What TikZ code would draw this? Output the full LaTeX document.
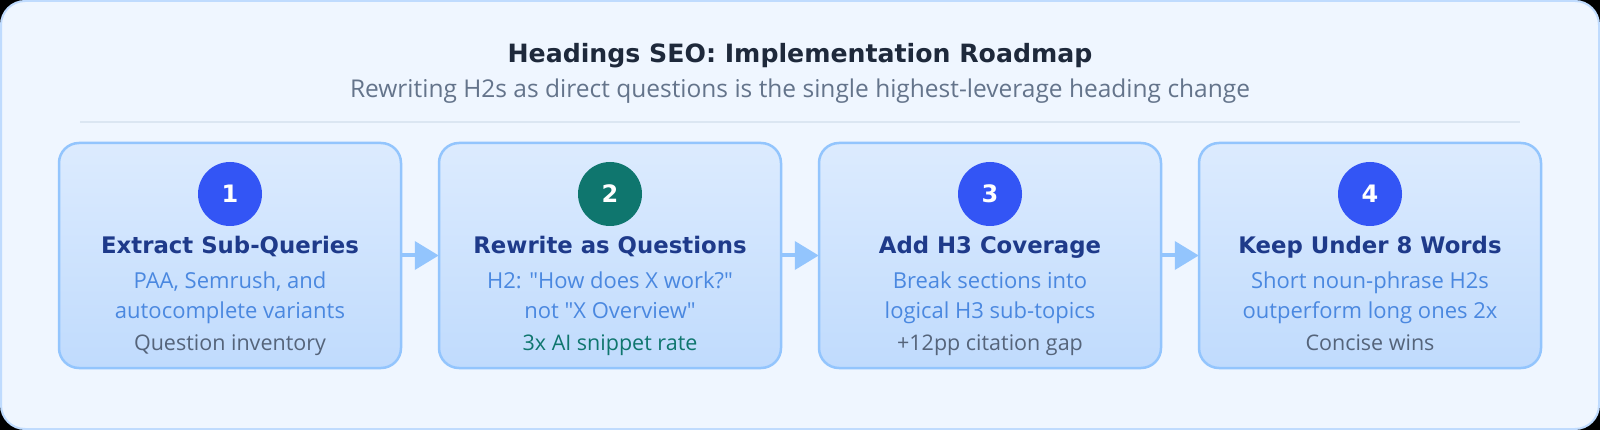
\documentclass[tikz,border=0pt]{standalone}
\usepackage{fontspec}
\setmainfont{Open Sans}
\newfontfamily\boldfam{DejaVu Sans}[BoldFont={DejaVu Sans Bold}]
\usetikzlibrary{arrows.meta}
\definecolor{cardfill}{RGB}{239,246,255}
\definecolor{cardline}{RGB}{191,219,254}
\definecolor{boxtop}{RGB}{220,235,254}
\definecolor{boxbot}{RGB}{192,219,253}
\definecolor{boxline}{RGB}{147,197,253}
\definecolor{ttl}{RGB}{30,41,59}
\definecolor{subttl}{RGB}{100,116,139}
\definecolor{divcol}{RGB}{219,230,242}
\definecolor{steptitle}{RGB}{30,58,138}
\definecolor{stepdesc}{RGB}{74,136,224}
\definecolor{stepfoot}{RGB}{85,100,122}
\definecolor{circblue}{RGB}{51,85,245}
\definecolor{circteal}{RGB}{15,118,110}
\definecolor{arrcol}{RGB}{147,197,253}
\tikzset{
  stepbox/.style={draw=boxline, line width=2.5pt, rounded corners=20pt, top color=boxtop, bottom color=boxbot, minimum width=342pt, minimum height=225pt, inner sep=0pt},
  numcirc/.style={circle, minimum size=64pt, inner sep=0pt, text=white, font=\boldfam\fontsize{24}{26}\selectfont\bfseries},
  titletext/.style={anchor=base, text=steptitle, font=\boldfam\fontsize{22.8}{26}\selectfont\bfseries, inner sep=0pt},
  desctext/.style={anchor=base, text=stepdesc, font=\fontsize{22}{26}\selectfont, inner sep=0pt},
  foottext/.style={anchor=base, text=stepfoot, font=\fontsize{21.5}{25}\selectfont, inner sep=0pt},
  flowarrow/.style={draw=arrcol, line width=4pt, -{Triangle[width=28pt,length=24pt]}, shorten >=-1pt}
}
\begin{document}
\begin{tikzpicture}[x=1pt,y=-1pt]
\useasboundingbox (0,0) rectangle (1600,430);
\fill[black] (0,0) rectangle (1600,430);
\draw[fill=cardfill, draw=cardline, line width=2pt, rounded corners=24pt] (1,1) rectangle (1599,429);
\node[anchor=base, text=ttl, font=\boldfam\fontsize{25.2}{30}\selectfont\bfseries, inner sep=0pt] (title) at (800,63) {Headings SEO: Implementation Roadmap};
\node[anchor=base, text=subttl, font=\fontsize{24.5}{28}\selectfont, inner sep=0pt] (subtitle) at (800,98) {Rewriting H2s as direct questions is the single highest-leverage heading change};
\coordinate (divL) at (80,122);
\coordinate (divR) at (1520,122);
\draw[divcol, line width=1.5pt] (divL) -- (divR);
% boxes
\node[stepbox] (b1) at (230,255.5) {};
\node[stepbox] (b2) at (610,255.5) {};
\node[stepbox] (b3) at (990,255.5) {};
\node[stepbox] (b4) at (1370,255.5) {};
% circles
\node[numcirc, fill=circblue] (c1) at (230,194) {1};
\node[numcirc, fill=circteal] (c2) at (610,194) {2};
\node[numcirc, fill=circblue] (c3) at (990,194) {3};
\node[numcirc, fill=circblue] (c4) at (1370,194) {4};
% titles
\node[titletext] (t1) at (230,254) {Extract Sub-Queries};
\node[titletext] (t2) at (610,254) {Rewrite as Questions};
\node[titletext] (t3) at (990,254) {Add H3 Coverage};
\node[titletext] (t4) at (1370,254) {Keep Under 8 Words};
% descriptions
\node[desctext] (d1a) at (230,288) {PAA, Semrush, and};
\node[desctext] (d1b) at (230,318) {autocomplete variants};
\node[desctext] (d2a) at (610,288) {H2: \textquotedbl How does X work?\textquotedbl};
\node[desctext] (d2b) at (610,318) {not \textquotedbl X Overview\textquotedbl};
\node[desctext] (d3a) at (990,288) {Break sections into};
\node[desctext] (d3b) at (990,318) {logical H3 sub-topics};
\node[desctext] (d4a) at (1370,288) {Short noun-phrase H2s};
\node[desctext] (d4b) at (1370,318) {outperform long ones 2x};
% footers
\node[foottext] (f1) at (230,350) {Question inventory};
\node[foottext, text=circteal] (f2) at (610,350) {3x AI snippet rate};
\node[foottext] (f3) at (990,350) {+12pp citation gap};
\node[foottext] (f4) at (1370,350) {Concise wins};
% arrows
\draw[flowarrow] (b1.east) -- (b2.west);
\draw[flowarrow] (b2.east) -- (b3.west);
\draw[flowarrow] (b3.east) -- (b4.west);
\end{tikzpicture}
\end{document}
